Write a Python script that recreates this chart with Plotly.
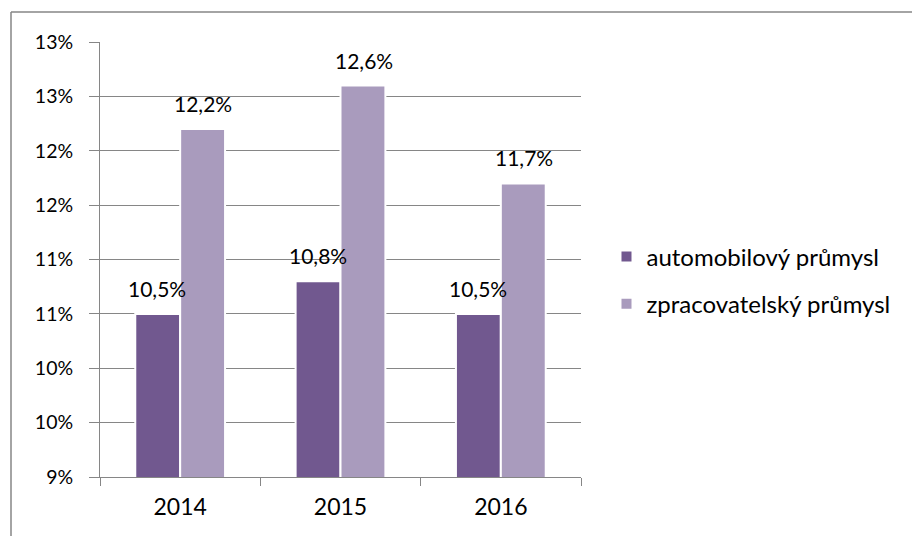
import plotly.graph_objects as go

# Data
years = ["2014", "2015", "2016"]
auto_share = [0.105, 0.108, 0.105]
manuf_share = [0.122, 0.126, 0.117]
auto_label = ["10,5%", "10,8%", "10,5%"]
manuf_label = ["12,2%", "12,6%", "11,7%"]
series_names = ["automobilový průmysl", "zpracovatelský průmysl"]
y_tickvals = [0.09, 0.095, 0.10, 0.105, 0.11, 0.115, 0.12, 0.125, 0.13]
y_ticktext = ["9%", "10%", "10%", "11%", "11%", "12%", "12%", "13%", "13%"]

DARK = "#71588F"
LIGHT = "#A99BBD"
GRID = "#868686"
FONT = "Lato, Carlito, Calibri, sans-serif"

fig = go.Figure()
fig.add_trace(go.Bar(x=years, y=auto_share, name=series_names[0], legendgroup="a",
                     marker=dict(color=DARK, line=dict(color="white", width=2))))
fig.add_trace(go.Bar(x=years, y=manuf_share, name=series_names[1], legendgroup="b",
                     marker=dict(color=LIGHT, line=dict(color="white", width=2))))

# value labels above each bar (x given as category index)
annotations = []
for i in range(len(years)):
    for vals, labels, shift in ((auto_share, auto_label, -23), (manuf_share, manuf_label, 23)):
        annotations.append(dict(x=i, y=vals[i], xref="x", yref="y", text=labels[i],
                                showarrow=False, yanchor="bottom", xshift=shift, yshift=11,
                                font=dict(family=FONT, size=21, color="black")))

fig.update_layout(
    width=912, height=536,
    margin=dict(l=100, r=331, t=42, b=59),
    paper_bgcolor="white", plot_bgcolor="white",
    barmode="group", bargap=0.44, bargroupgap=0,
    font=dict(family=FONT, size=20, color="black"),
    showlegend=True,
    legend=dict(x=1.053, y=0.452, xanchor="left", yanchor="middle",
                font=dict(family=FONT, size=24, color="black"),
                bgcolor="rgba(0,0,0,0)", tracegroupgap=13),
    annotations=annotations,
    shapes=[
        dict(type="line", xref="paper", yref="paper", x0=-89 / 481, x1=1 + 331 / 481,
             y0=1 + 30 / 435, y1=1 + 30 / 435, line=dict(color=GRID, width=1.5)),
        dict(type="line", xref="paper", yref="paper", x0=-89 / 481, x1=-89 / 481,
             y0=-59 / 435, y1=1 + 30 / 435, line=dict(color=GRID, width=1.5)),
    ],
)
fig.update_yaxes(range=[0.09, 0.13], tickvals=y_tickvals, ticktext=y_ticktext,
                 showgrid=True, gridcolor=GRID, gridwidth=1,
                 showline=True, linecolor=GRID, linewidth=1,
                 ticks="outside", ticklen=10, tickcolor=GRID, zeroline=False,
                 ticklabelstandoff=12,
                 tickfont=dict(family=FONT, size=19.5, color="black"))
fig.update_xaxes(type="category", range=[-0.5, len(years) - 0.5],
                 showline=True, linecolor=GRID, linewidth=1, showgrid=False,
                 ticks="outside", ticklen=8, tickcolor=GRID, tickson="boundaries",
                 ticklabelstandoff=9,
                 tickfont=dict(family=FONT, size=23, color="black"))

fig.write_html("out.html")
